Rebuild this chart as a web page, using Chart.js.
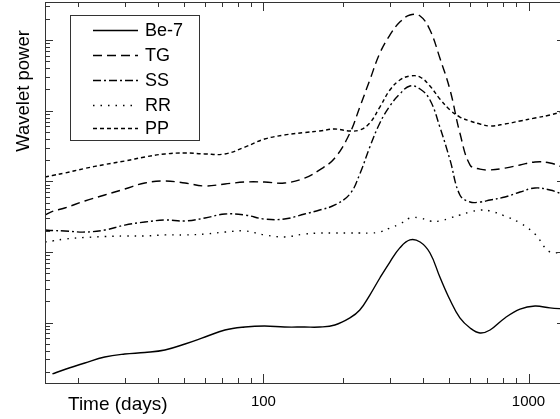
<!DOCTYPE html>
<html>
<head>
<meta charset="utf-8">
<script src="https://cdn.jsdelivr.net/npm/chart.js@4"></script>
<style>
html, body { margin: 0; padding: 0; overflow: hidden; background: #fff; }
canvas { display: block; }
</style>
</head>
<body>
<canvas id="chart" width="570" height="419"></canvas>
<script>
// time axis (days), shared by all series
const days = [15.0, 16.0, 17.8, 21.2, 25.2, 30.0, 35.7, 42.5, 50.6, 60.2, 71.6, 85.1, 101, 120, 143, 163, 186, 212,
    231, 252, 275, 300, 327, 357, 390, 425, 463, 506, 551, 602, 656, 716, 815, 929, 1058, 1205, 1373];

const be7 = [null, 0.187, 0.216, 0.267, 0.325, 0.358, 0.376, 0.408, 0.496, 0.623, 0.783, 0.863, 0.892, 0.863, 0.863,
    0.863, 0.922, 1.16, 1.50, 2.45, 4.27, 7.19, 11.4, 14.8, 13.8, 9.65, 4.41, 2.08, 1.16, 0.836, 0.710, 0.783, 1.16,
    1.55, 1.71, 1.61, 1.55];
const tg = [33.3, 37.4, 41.9, 52.6, 64.0, 77.8, 94.6, 101, 94.6, 85.8, 91.6, 97.7, 97.7, 94.6, 111, 145, 214, 483,
    1128, 2722, 6561, 11800, 18030, 22700, 21940, 13900, 5572, 1963, 483, 170, 149, 145, 154, 170, 188, 182, 154];
const ss = [20.4, 20.1, 19.8, 19.1, 20.4, 24.0, 26.5, 28.3, 27.4, 30.2, 34.4, 33.3, 29.2, 29.2, 34.4, 39.2, 46.2,
    66.1, 127, 306, 670, 1166, 1725, 2238, 2029, 1418, 588, 200, 64.0, 50.9, 50.9, 54.3, 59.9, 70.5, 80.4, 75.3, 64.0];
const rr = [13.8, 14.3, 15.2, 16.0, 16.5, 16.8, 16.8, 17.4, 17.4, 17.9, 19.1, 19.8, 17.4, 16.3, 17.9, 18.5, 18.5,
    18.5, 18.5, 18.5, 19.1, 21.8, 24.8, 30.2, 30.2, 27.4, 27.4, 30.2, 33.3, 36.7, 39.2, 38.0, 32.2, 25.7, 17.9, 9.97, 10.3];
const pp = [115, 121, 131, 152, 173, 194, 221, 244, 252, 244, 244, 305, 397, 453, 491, 516, 551, 516, 533, 670,
    1128, 1963, 2722, 3098, 3000, 2238, 1466, 1023, 814, 715, 648, 607, 648, 715, 788, 869, 991];

const seriesNames = ["Be-7", "TG", "SS", "RR", "PP"];
const seriesDashes = [[], [9, 5], [8, 3, 2, 3], [1.5, 6], [4, 3]];
const xTickLabels = [100, 1000];

const FONT = "'Liberation Sans', Arial, sans-serif";

function makeSet(i, values) {
    return {
        label: seriesNames[i],
        data: days.map((d, k) => ({ x: d, y: values[k] })),
        borderColor: "#000",
        borderWidth: 1.4,
        borderDash: seriesDashes[i],
        pointRadius: 0,
        fill: false,
        tension: 0.4,
    };
}

function tickLine(ctx, x1, y1, x2, y2) {
    ctx.beginPath();
    ctx.moveTo(x1, y1);
    ctx.lineTo(x2, y2);
    ctx.stroke();
}

// frame, inward ticks and axis text
const axesPlugin = {
    id: "axesPlugin",
    afterDraw(chart) {
        const { ctx, chartArea: a, scales } = chart;
        const x = scales.x, y = scales.y;
        ctx.save();
        ctx.strokeStyle = "#333";
        ctx.lineWidth = 1;
        ctx.strokeRect(a.left + 0.5, a.top + 0.5, a.right - a.left, a.bottom - a.top);

        for (let e = 1; e <= 3; e++) {
            for (let m = 1; m <= 9; m++) {
                const v = m * Math.pow(10, e);
                if (v < x.min || v > x.max) continue;
                const px = Math.round(x.getPixelForValue(v)) + 0.5;
                const len = m === 1 ? 9 : 5;
                tickLine(ctx, px, a.bottom, px, a.bottom - len);
                tickLine(ctx, px, a.top, px, a.top + len);
            }
        }
        for (let e = -1; e <= 4; e++) {
            for (let m = 1; m <= 9; m++) {
                const v = m * Math.pow(10, e);
                if (v < y.min || v > y.max) continue;
                const py = Math.round(y.getPixelForValue(v)) + 0.5;
                const len = m === 1 ? 8 : 5;
                tickLine(ctx, a.left, py, a.left + len, py);
                tickLine(ctx, a.right, py, a.right - len, py);
            }
        }

        ctx.fillStyle = "#000";
        ctx.font = "15px " + FONT;
        ctx.textAlign = "center";
        ctx.textBaseline = "alphabetic";
        xTickLabels.forEach(v => {
            ctx.fillText(String(v), x.getPixelForValue(v), 406);
        });

        ctx.font = "19px " + FONT;
        ctx.textAlign = "left";
        ctx.fillText("Time (days)", 68, 410);

        ctx.save();
        ctx.translate(24, 91);
        ctx.rotate(-Math.PI / 2);
        ctx.font = "18.5px " + FONT;
        ctx.textAlign = "center";
        ctx.textBaseline = "middle";
        ctx.fillText("Wavelet power", 0, 0);
        ctx.restore();

        ctx.restore();
    }
};

// boxed legend with line samples
const legendPlugin = {
    id: "legendPlugin",
    afterDatasetsDraw(chart) {
        const ctx = chart.ctx;
        ctx.save();
        ctx.fillStyle = "#fff";
        ctx.fillRect(70, 15, 129, 125);
        ctx.strokeStyle = "#333";
        ctx.lineWidth = 1;
        ctx.strokeRect(70.5, 15.5, 129, 125);
        const rows = [30, 55, 80, 105, 128];
        ctx.font = "18px " + FONT;
        ctx.textBaseline = "middle";
        ctx.textAlign = "left";
        chart.data.datasets.forEach((ds, i) => {
            ctx.strokeStyle = "#000";
            ctx.lineWidth = 1.4;
            ctx.setLineDash(ds.borderDash);
            tickLine(ctx, 93, rows[i] + 0.5, 138, rows[i] + 0.5);
            ctx.setLineDash([]);
            ctx.fillStyle = "#000";
            ctx.fillText(ds.label, 145, rows[i] + 1);
        });
        ctx.restore();
    }
};

new Chart(document.getElementById("chart"), {
    type: "line",
    data: {
        datasets: [makeSet(0, be7), makeSet(1, tg), makeSet(2, ss), makeSet(3, rr), makeSet(4, pp)]
    },
    options: {
        responsive: false,
        animation: false,
        layout: { padding: { left: 45, top: 2, right: 5, bottom: 36 } },
        plugins: { legend: { display: false }, tooltip: { enabled: false } },
        scales: {
            x: { type: "logarithmic", min: 15, max: 1373, bounds: "data", display: false },
            y: { type: "logarithmic", min: 0.139, max: 34670, bounds: "data", display: false }
        }
    },
    plugins: [axesPlugin, legendPlugin]
});
</script>
</body>
</html>
